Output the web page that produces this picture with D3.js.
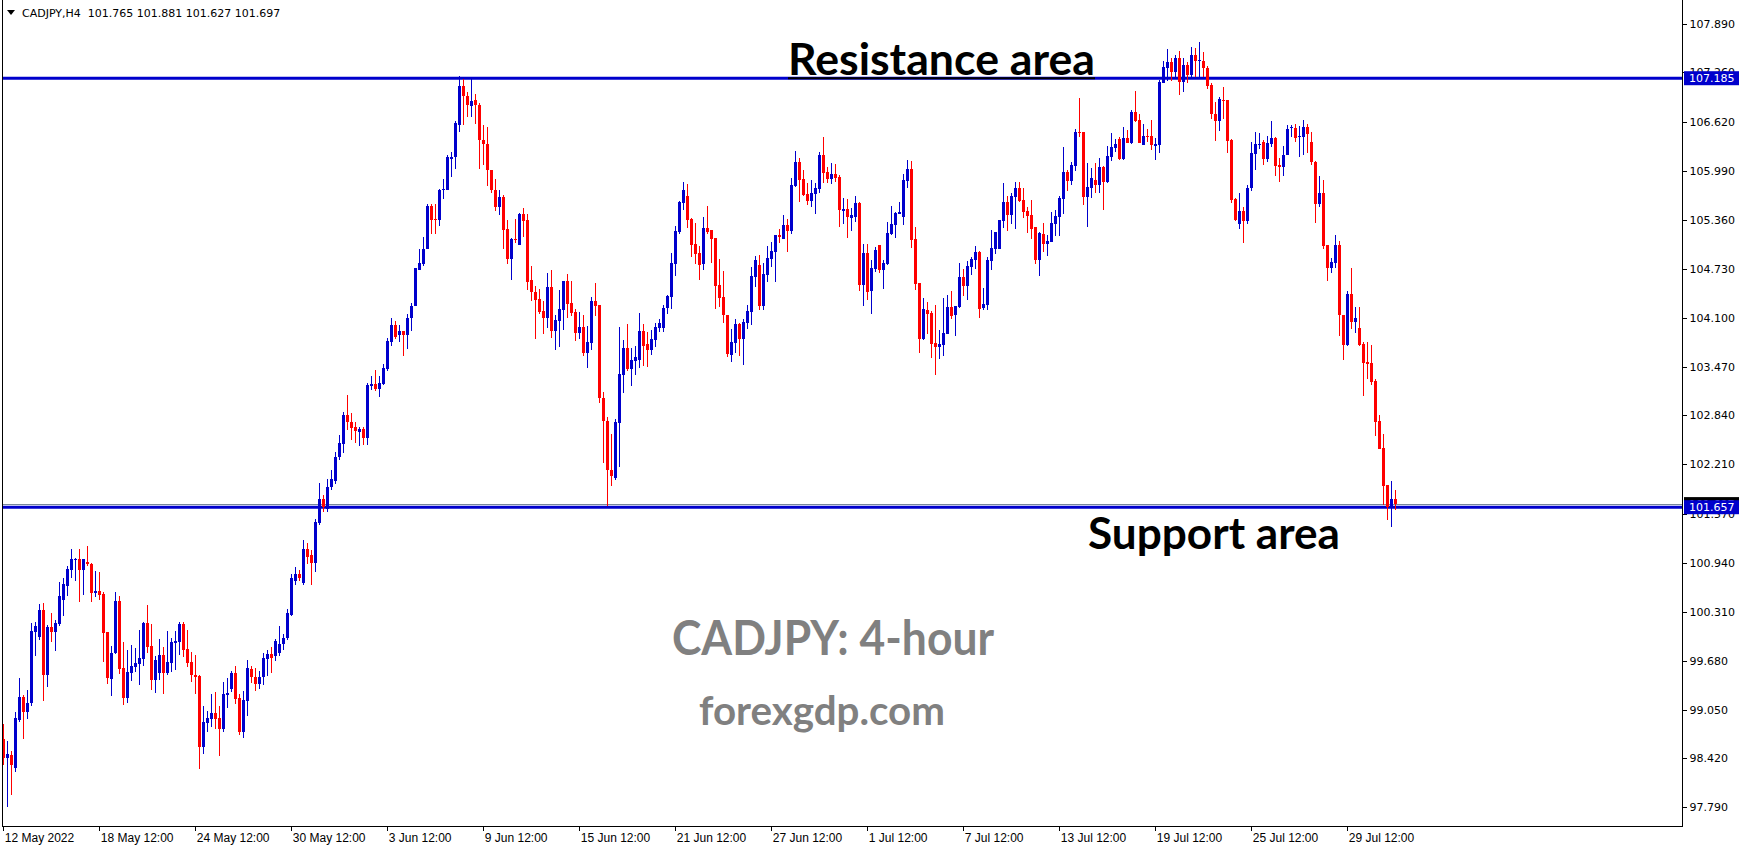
<!DOCTYPE html>
<html><head><meta charset="utf-8">
<script src="https://cdn.jsdelivr.net/npm/d3@7"></script>
<style>html,body{margin:0;padding:0;background:#fff;overflow:hidden}</style>
</head><body><svg id="chart" width="1746" height="850"></svg>
<script>
// ---- DATA (CADJPY H4) ----
const opens=[
98.67,98.43,98.46,98.29,98.91,99.21,99.02,99.14,100.05,99.99,100.33,99.50,100.11,100.05,100.15,100.46,100.64,100.85,100.98,100.99,
100.85,100.95,100.92,100.55,100.58,100.54,100.05,99.44,99.78,100.45,99.58,99.20,99.52,99.60,99.64,99.70,100.16,99.87,99.43,99.52,
99.75,99.52,99.65,99.91,99.92,100.15,99.83,99.66,99.49,99.48,98.57,98.87,98.93,99.00,98.94,98.80,99.24,99.31,99.52,99.20,
98.76,99.16,99.57,99.47,99.38,99.47,99.70,99.76,99.74,99.78,99.89,99.97,100.27,100.71,100.80,100.68,101.12,101.04,100.94,101.45,
101.76,101.64,101.92,102.00,102.30,102.47,102.85,102.76,102.69,102.63,102.66,102.55,103.22,103.24,103.18,103.25,103.44,103.78,104.00,103.87,
103.93,103.87,104.10,104.25,104.72,104.79,104.99,105.54,105.37,105.36,105.74,105.75,106.14,106.17,106.58,107.08,106.96,106.83,106.90,106.84,
106.39,106.34,106.00,105.74,105.53,105.65,105.24,104.85,105.11,105.04,105.44,105.36,104.58,104.43,104.34,104.18,104.10,104.49,103.93,104.06,
104.20,104.57,104.29,104.17,103.90,103.98,103.65,103.77,104.31,104.26,103.07,102.77,102.14,102.03,102.74,103.36,103.71,103.44,103.54,103.55,
103.93,103.76,103.68,103.81,103.97,103.97,104.22,104.37,104.79,105.20,105.58,105.67,105.37,105.05,104.93,104.79,105.25,105.23,105.12,104.52,
104.36,104.14,103.62,103.77,104.02,103.82,104.03,104.17,104.62,104.78,104.25,104.65,104.85,104.95,105.17,105.11,105.29,105.22,105.80,106.10,
105.89,105.69,105.60,105.69,105.76,106.20,105.98,105.89,105.95,105.91,105.47,105.50,105.38,105.40,105.58,104.52,104.93,104.44,104.73,105.04,
104.71,104.79,105.18,105.29,105.44,105.40,105.86,106.01,105.11,104.55,103.82,104.20,104.16,103.77,103.72,103.75,103.89,104.24,104.13,104.24,
104.62,104.51,104.75,104.84,104.95,104.22,104.26,104.83,104.98,104.99,105.35,105.59,105.42,105.65,105.77,105.62,105.47,105.42,105.27,104.84,
105.18,105.05,105.07,105.31,105.40,105.63,105.98,105.86,106.05,106.49,106.49,105.66,105.77,105.87,105.81,106.04,105.85,106.17,106.29,106.40,
106.14,106.41,106.35,106.75,106.65,106.32,106.44,106.44,106.31,106.32,107.12,107.32,107.39,107.27,107.45,107.14,107.35,107.23,107.48,107.41,
107.41,107.32,107.10,106.72,106.63,106.90,106.90,106.39,105.63,105.31,105.47,105.34,105.77,106.21,106.32,106.36,106.14,106.34,106.41,106.07,
106.04,106.20,106.55,106.54,106.43,106.43,106.56,106.36,106.10,105.56,105.70,105.03,104.74,104.80,105.03,104.14,103.75,104.40,104.04,103.97,
103.76,103.53,103.51,103.28,102.77,102.42,101.94,101.66,101.765];
const highs=[
98.86,98.64,98.51,99.02,99.46,99.24,99.30,100.16,100.18,100.41,100.42,100.14,100.29,100.20,100.69,100.74,100.90,101.12,101.00,101.12,
100.99,101.16,100.94,100.84,100.82,100.56,100.05,99.87,100.56,100.51,99.92,99.82,99.88,99.84,100.07,100.18,100.40,100.15,99.74,99.96,
99.86,100.06,99.97,100.06,100.18,100.18,100.07,99.79,99.75,99.49,99.09,99.03,99.25,99.28,99.09,99.40,99.46,99.55,99.61,99.25,
99.29,99.69,99.61,99.59,99.55,99.78,99.82,99.85,99.96,100.12,100.02,100.34,100.80,100.89,100.85,101.23,101.20,101.10,101.50,101.97,
101.82,102.02,102.14,102.37,102.59,102.88,103.10,102.87,102.75,102.69,102.69,103.26,103.35,103.43,103.35,103.50,103.84,104.10,104.06,104.01,
103.93,104.15,104.29,104.74,104.98,105.14,105.56,105.56,105.57,105.76,105.89,106.19,106.23,106.64,107.21,107.17,107.01,107.20,106.98,106.86,
106.58,106.56,106.00,105.88,105.74,105.68,105.36,105.12,105.37,105.45,105.51,105.44,104.76,104.51,104.47,104.31,104.67,104.71,104.13,104.45,
104.57,104.66,104.57,104.21,104.17,104.14,103.99,104.36,104.54,104.26,103.14,102.82,102.60,102.80,103.98,103.81,104.02,103.71,103.73,104.16,
104.02,103.91,103.94,104.03,104.08,104.26,104.39,104.93,105.28,105.60,105.85,105.82,105.38,105.32,105.02,105.40,105.54,105.23,105.12,104.85,
104.70,104.14,103.95,104.08,104.03,104.08,104.26,104.75,104.89,104.91,104.80,105.02,105.07,105.17,105.24,105.42,105.37,105.90,106.25,106.16,
106.00,105.83,105.87,105.83,106.23,106.43,106.04,106.09,106.08,105.94,105.64,105.63,105.51,105.67,105.59,105.05,105.05,104.84,105.01,105.04,
104.84,105.33,105.54,105.46,105.59,105.95,106.13,106.12,105.27,104.55,104.35,104.30,104.19,104.26,103.94,104.35,104.39,104.44,104.25,104.80,
104.73,104.83,104.88,105.02,104.96,104.48,104.88,105.23,105.20,105.36,105.83,105.67,105.71,105.85,105.85,105.77,105.53,105.62,105.27,105.20,
105.32,105.17,105.46,105.49,105.67,106.30,106.00,106.11,106.53,106.93,106.49,106.09,106.03,106.09,106.16,106.05,106.31,106.48,106.40,106.43,
106.56,106.52,106.78,107.02,106.72,106.59,106.53,106.65,106.41,107.16,107.41,107.56,107.44,107.48,107.54,107.45,107.39,107.59,107.57,107.65,
107.52,107.34,107.12,106.88,106.94,107.07,106.90,106.40,105.64,105.71,105.52,105.81,106.36,106.49,106.48,106.39,106.44,106.63,106.43,106.16,
106.31,106.58,106.58,106.59,106.57,106.65,106.59,106.49,106.12,105.92,105.87,105.03,104.87,105.16,105.09,104.14,104.44,104.74,104.24,104.24,
103.79,103.79,103.75,103.31,102.85,102.60,101.94,101.99,101.881];
const lows=[
98.33,97.80,97.95,98.24,98.89,98.67,98.93,99.09,99.74,99.94,99.16,99.34,99.92,99.80,100.13,100.25,100.51,100.75,100.70,100.43,
100.52,100.90,100.43,100.50,100.46,99.66,99.38,99.22,99.76,99.51,99.11,99.13,99.42,99.53,99.37,99.61,99.78,99.30,99.26,99.43,
99.25,99.49,99.53,99.56,99.75,99.73,99.60,99.40,99.25,98.28,98.48,98.76,98.82,98.80,98.45,98.76,99.07,99.28,99.12,98.72,
98.68,98.97,99.39,99.29,99.31,99.36,99.48,99.52,99.67,99.74,99.82,99.94,100.25,100.66,100.70,100.66,100.92,100.66,100.82,101.43,
101.60,101.60,101.88,101.96,102.26,102.35,102.65,102.52,102.49,102.45,102.46,102.46,103.17,103.16,103.08,103.23,103.41,103.74,103.82,103.78,
103.60,103.70,103.93,104.25,104.71,104.76,104.98,105.18,105.18,105.28,105.63,105.74,105.91,106.02,106.49,106.58,106.69,106.68,106.59,106.02,
106.07,105.79,105.70,105.48,105.42,104.98,104.79,104.58,105.06,105.04,105.14,104.45,104.31,103.83,104.15,103.89,103.97,103.84,103.68,103.72,
103.94,104.09,104.12,103.80,103.83,103.61,103.45,103.68,104.12,103.00,102.23,101.67,101.93,102.01,102.18,103.13,103.41,103.22,103.36,103.45,
103.48,103.46,103.62,103.72,103.92,103.92,104.15,104.21,104.64,105.18,105.49,105.25,104.88,104.79,104.58,104.71,105.18,104.80,104.21,104.24,
104.03,103.59,103.53,103.64,103.60,103.49,103.95,104.00,104.49,104.20,104.20,104.56,104.75,104.56,105.06,105.11,104.95,105.18,105.78,105.59,
105.67,105.55,105.53,105.43,105.71,105.83,105.83,105.82,105.85,105.27,105.31,105.13,105.22,105.33,104.44,104.25,104.33,104.15,104.69,104.67,
104.47,104.78,105.16,105.13,105.43,105.29,105.77,105.00,104.46,103.64,103.81,103.89,103.58,103.36,103.57,103.61,103.89,104.08,103.86,104.22,
104.38,104.33,104.65,104.73,104.10,104.20,104.20,104.71,104.92,104.98,105.25,105.22,105.31,105.24,105.59,105.38,105.19,105.11,104.79,104.64,
104.95,104.89,105.07,105.15,105.15,105.44,105.73,105.81,105.99,106.43,105.55,105.27,105.64,105.71,105.71,105.49,105.83,106.12,106.23,106.13,
106.13,106.35,106.34,106.62,106.35,106.32,106.36,106.26,106.13,106.22,107.12,107.15,107.15,107.20,106.97,107.01,107.12,107.20,107.20,107.20,
107.20,107.05,106.66,106.38,106.50,106.66,106.22,105.58,105.34,105.24,105.06,105.31,105.73,106.00,106.27,106.07,106.10,106.30,105.92,105.85,
105.92,106.20,106.43,106.36,106.17,106.20,106.22,106.07,105.32,105.53,104.98,104.57,104.67,104.74,103.86,103.55,103.73,103.95,103.90,103.73,
103.09,103.31,103.23,102.57,102.41,101.68,101.49,101.40,101.627];
const closes=[
98.43,98.48,98.34,98.94,99.21,99.02,99.13,100.06,100.13,100.33,99.50,100.11,100.05,100.16,100.51,100.67,100.86,100.99,100.99,100.85,
100.99,100.92,100.55,100.58,100.52,100.04,99.46,99.78,100.45,99.57,99.20,99.53,99.61,99.65,99.71,100.16,99.86,99.43,99.69,99.75,
99.52,99.66,99.92,99.93,100.15,99.82,99.65,99.49,99.47,98.57,98.89,98.94,99.00,98.93,98.80,99.25,99.26,99.52,99.18,98.76,
99.17,99.58,99.47,99.38,99.47,99.72,99.76,99.72,99.93,99.90,99.97,100.29,100.74,100.80,100.74,101.12,101.02,100.94,101.47,101.76,
101.66,101.92,102.02,102.31,102.48,102.85,102.76,102.68,102.64,102.67,102.55,103.23,103.24,103.18,103.26,103.45,103.80,104.00,103.85,103.93,
103.87,104.10,104.25,104.74,104.80,104.99,105.54,105.36,105.36,105.75,105.76,106.17,106.17,106.61,107.08,106.95,106.84,106.89,106.84,106.39,
106.34,106.00,105.74,105.53,105.65,105.23,104.85,105.11,105.10,105.44,105.35,104.56,104.43,104.33,104.17,104.10,104.49,103.93,104.07,104.21,
104.57,104.28,104.16,103.90,103.98,103.65,103.78,104.31,104.25,103.07,102.77,102.14,102.06,102.75,103.37,103.71,103.44,103.55,103.59,103.93,
103.74,103.68,103.82,103.98,104.03,104.22,104.38,104.80,105.22,105.59,105.74,105.36,105.03,104.92,104.78,105.25,105.20,105.11,104.51,104.35,
104.13,103.63,103.79,104.02,103.82,104.04,104.19,104.64,104.84,104.25,104.66,104.87,104.96,105.17,105.14,105.29,105.22,105.81,106.10,105.87,
105.68,105.60,105.71,105.77,106.20,105.96,105.89,105.95,105.90,105.49,105.50,105.40,105.42,105.58,104.52,104.93,104.43,104.74,104.97,104.71,
104.80,105.19,105.31,105.45,105.46,105.87,106.01,105.10,104.53,103.82,104.21,104.15,103.76,103.72,103.76,103.90,104.24,104.12,104.25,104.62,
104.51,104.77,104.86,104.95,104.21,104.28,104.84,105.00,105.20,105.36,105.59,105.42,105.67,105.77,105.60,105.46,105.41,105.24,104.84,105.19,
105.05,105.09,105.32,105.41,105.64,105.98,105.86,106.07,106.49,106.48,105.66,105.78,105.90,105.81,106.04,105.85,106.18,106.30,106.34,106.14,
106.41,106.35,106.75,106.63,106.35,106.44,106.43,106.32,106.34,107.14,107.33,107.39,107.27,107.45,107.14,107.35,107.23,107.48,107.41,107.42,
107.32,107.08,106.72,106.63,106.92,106.89,106.38,105.62,105.36,105.47,105.34,105.77,106.22,106.34,106.34,106.14,106.35,106.41,106.05,106.04,
106.20,106.53,106.56,106.41,106.44,106.56,106.47,106.10,105.56,105.70,105.02,104.74,104.82,105.03,104.13,103.75,104.40,104.04,104.09,103.75,
103.52,103.50,103.27,102.75,102.41,101.93,101.66,101.76,101.697];

const yTickLabels=["107.890","107.260","106.620","105.990","105.360","104.730","104.100","103.470","102.840",
"102.210","101.570","100.940","100.310","99.680","99.050","98.420","97.790"];
const xTickLabels=["12 May 2022","18 May 12:00","24 May 12:00","30 May 12:00","3 Jun 12:00","9 Jun 12:00",
"15 Jun 12:00","21 Jun 12:00","27 Jun 12:00","1 Jul 12:00","7 Jul 12:00","13 Jul 12:00","19 Jul 12:00",
"25 Jul 12:00","29 Jul 12:00"];
const barsPerXTick=24;
const resistanceLevel=107.185, supportLevel=101.657, bidPrice=101.697;
const headerSymbol="CADJPY,H4", headerQuote="101.765 101.881 101.627 101.697";
const annotations=[
  {text:"Resistance area", x:788, y:75, size:44, len:307, color:"#000"},
  {text:"Support area", x:1088, y:549, size:44, len:252, color:"#000"},
  {text:"CADJPY: 4-hour", x:672, y:655, size:48, len:322, color:"#808080"},
  {text:"forexgdp.com", x:699, y:725, size:40, len:246, color:"#808080"}
];

// ---- CHART ----
const BLUE="#0000CC", RED="#FF0000";
const svg=d3.select("#chart");
svg.append("rect").attr("width",1746).attr("height",850).attr("fill","#fff");
const plotRight=1682, plotBottom=826, plotLeft=2;
const y=d3.scaleLinear().domain([97.79,107.89]).range([807.3,23.5]);
const x=d3.scaleLinear().domain([0,opens.length-1]).range([3.3,3.3+4*(opens.length-1)]);

const bars=opens.map((o,i)=>({i,o,h:highs[i],l:lows[i],c:closes[i]}));
const cx=d=>Math.round(x(d.i));

// horizontal lines
svg.append("line").attr("x1",plotLeft).attr("x2",plotRight).attr("y1",Math.round(y(bidPrice))+0.5).attr("y2",Math.round(y(bidPrice))+0.5)
  .attr("stroke","#778899").attr("stroke-width",1);
[resistanceLevel,supportLevel].forEach(v=>{
  svg.append("line").attr("x1",plotLeft).attr("x2",plotRight).attr("y1",y(v)).attr("y2",y(v))
    .attr("stroke",BLUE).attr("stroke-width",3);
});

// candles
const g=svg.append("g").attr("shape-rendering","crispEdges");
g.selectAll("line.wick").data(bars).join("line").attr("class","wick")
  .attr("x1",d=>cx(d)+0.5).attr("x2",d=>cx(d)+0.5)
  .attr("y1",d=>y(Math.max(d.h,d.o,d.c))).attr("y2",d=>y(Math.min(d.l,d.o,d.c)))
  .attr("stroke",d=>d.c<d.o?RED:BLUE).attr("stroke-width",1);
g.selectAll("rect.body").data(bars).join("rect").attr("class","body")
  .attr("x",d=>cx(d)-1).attr("width",3)
  .attr("y",d=>y(Math.max(d.o,d.c)))
  .attr("height",d=>Math.max(1,y(Math.min(d.o,d.c))-y(Math.max(d.o,d.c))))
  .attr("fill",d=>d.c<d.o?RED:BLUE);

// frame
const frame=svg.append("g").attr("stroke","#000").attr("stroke-width",1).attr("shape-rendering","crispEdges");
frame.append("line").attr("x1",plotLeft+0.5).attr("x2",plotLeft+0.5).attr("y1",0).attr("y2",plotBottom+0.5);
frame.append("line").attr("x1",plotRight+0.5).attr("x2",plotRight+0.5).attr("y1",0).attr("y2",plotBottom+0.5);
frame.append("line").attr("x1",plotLeft).attr("x2",plotRight+1).attr("y1",plotBottom+0.5).attr("y2",plotBottom+0.5);

// right axis
const yAxis=d3.axisRight(y).tickValues(yTickLabels.map(Number)).tickSize(4)
  .tickFormat((d,i)=>yTickLabels[i]);
const ya=svg.append("g").attr("transform",`translate(${plotRight+0.5},0)`).call(yAxis);
ya.select(".domain").remove();
ya.selectAll("text").attr("font-family","DejaVu Sans").attr("font-size",11).attr("fill","#000");
ya.selectAll("line").attr("stroke","#000").attr("shape-rendering","crispEdges");

// bottom axis
const xAxis=d3.axisBottom(x).tickValues(xTickLabels.map((_,k)=>k*barsPerXTick)).tickSize(4)
  .tickFormat((d,i)=>xTickLabels[i]);
const xa=svg.append("g").attr("transform",`translate(0,${plotBottom+0.5})`).call(xAxis);
xa.select(".domain").remove();
xa.selectAll("text").attr("font-family","Liberation Sans").attr("font-size",12).attr("fill","#000")
  .attr("text-anchor","start").attr("x",1);
xa.selectAll("line").attr("stroke","#000").attr("shape-rendering","crispEdges");

// price labels on right
function priceLabel(v,fill){
  const cy=y(v);
  svg.append("rect").attr("x",plotRight+2).attr("y",cy-7).attr("width",55).attr("height",14).attr("fill",fill);
  svg.append("text").attr("x",plotRight+7).attr("y",cy+4).attr("font-family","DejaVu Sans").attr("font-size",11)
    .attr("fill","#fff").text(v.toFixed(3));
}
priceLabel(bidPrice,"#000");
priceLabel(resistanceLevel,BLUE);
priceLabel(supportLevel,BLUE);

// header
svg.append("path").attr("d","M7,10 L15,10 L11,15 Z").attr("fill","#000");
svg.append("text").attr("x",22).attr("y",17).attr("font-family","DejaVu Sans").attr("font-size",11)
  .attr("fill","#000").attr("xml:space","preserve").text(headerSymbol+"  "+headerQuote);

// annotations
annotations.forEach(a=>{
  svg.append("text").attr("x",a.x).attr("y",a.y).attr("font-family","Lato, 'Liberation Sans', sans-serif")
    .attr("font-weight","bold").attr("font-size",a.size).attr("fill",a.color)
    .attr("textLength",a.len).attr("lengthAdjust","spacingAndGlyphs").text(a.text);
});
// underline of the resistance label
svg.append("line").attr("x1",788).attr("x2",1095).attr("y1",y(resistanceLevel)).attr("y2",y(resistanceLevel))
  .attr("stroke","#000").attr("stroke-width",2);
</script></body></html>
